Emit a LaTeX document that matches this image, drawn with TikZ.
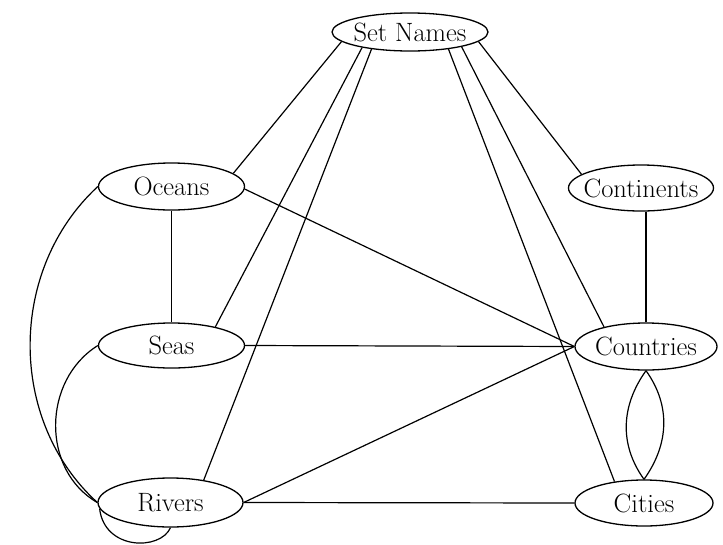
\documentclass[tikz,border=0pt]{standalone}
\usetikzlibrary{shapes.geometric}
% set names are centred in a fixed-size ellipse, which does not grow with the text
\newcommand{\setlabel}[1]{\makebox[0pt]{#1}}
\begin{document}
\begin{tikzpicture}[x=1pt,y=-1pt,line width=1.3pt,
  set/.style={draw,ellipse,inner sep=0pt,minimum width=146pt,minimum height=47pt,
    font=\fontsize{26.5}{31}\selectfont},
  link/.style={line width=1.2pt}]
  \useasboundingbox (0,0) rectangle (723,544);

  % the seven sets
  \node[set,minimum width=156pt,minimum height=38pt] (names) at (410,32) {\setlabel{Set Names}};
  \node[set] (oceans) at (171.5,186.5) {\setlabel{Oceans}};
  \node[set,minimum width=145pt,minimum height=46pt] (continents) at (641,188) {\setlabel{Continents}};
  \node[set,minimum height=45pt] (seas) at (171.5,345.5) {\setlabel{Seas}};
  \node[set,minimum width=142pt] (countries) at (646,346.5) {\setlabel{Countries}};
  \node[set,minimum width=145pt,minimum height=49pt] (rivers) at (170.5,502.5) {\setlabel{Rivers}};
  \node[set,minimum width=138pt,minimum height=46pt] (cities) at (644,503) {\setlabel{Cities}};

  % links from the set of names
  \draw[link] (names.188) -- (oceans.12);
  \draw[link] (names.198) -- (seas.23);
  \draw[link] (names.204) -- (rivers.34);
  \draw[link] (names.336) -- (cities.144);
  \draw[link] (names.344) -- (countries.155);
  \draw[link] (names.352) -- (continents.167);

  % straight links between the sets
  \draw[link] (oceans.south) -- (seas.north);
  \draw[link] (oceans.358) -- (countries.west);
  \draw[link] (seas.east) -- (countries.west);
  \draw[link] (rivers.east) -- (countries.west);
  \draw[link] (rivers.east) -- (cities.west);
  \draw[link] (countries.north) -- (countries.north |- continents.south);

  % curved links
  \draw[link] (oceans.west) .. controls +(-90,83) and +(-90,-82) .. (rivers.west);
  \draw[link] (seas.west) .. controls +(-56,35) and +(-56,-32) .. (rivers.west);
  \draw[link] (rivers.185) .. controls +(5,42) and +(-10,23) .. (rivers.south);
  \draw[link] (countries.south) .. controls +(-25,35) and +(-25,-35) .. (cities.north);
  \draw[link] (countries.south) .. controls +(25,35) and +(25,-35) .. (cities.north);
\end{tikzpicture}
\end{document}
